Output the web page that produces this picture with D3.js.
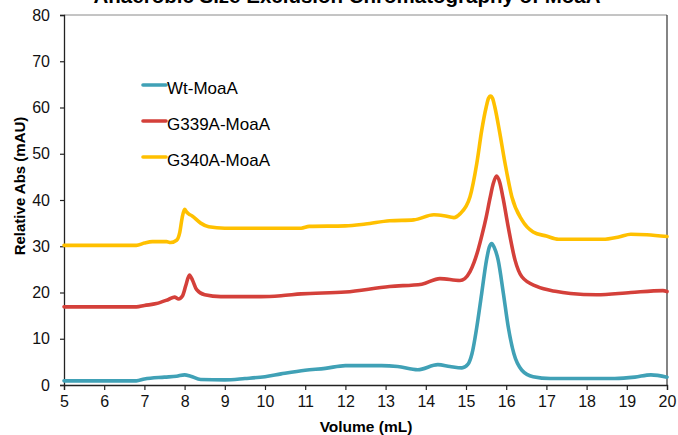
<!DOCTYPE html>
<html>
<head>
<meta charset="utf-8">
<script src="https://cdn.jsdelivr.net/npm/d3@7"></script>
<style>
  html, body { margin: 0; padding: 0; background: #fff; }
  svg { display: block; font-family: "Liberation Sans", Arial, Helvetica, sans-serif; }
</style>
</head>
<body>
<svg id="chart" width="678" height="435"></svg>
<script>
const title = "Anaerobic Size Exclusion Chromatography of MoaA";
const xTitle = "Volume (mL)";
const yTitle = "Relative Abs (mAU)";
const xTicks = [5,6,7,8,9,10,11,12,13,14,15,16,17,18,19,20];
const yTicks = [0,10,20,30,40,50,60,70,80];
const seriesNames = ["Wt-MoaA", "G339A-MoaA", "G340A-MoaA"];
const seriesColors = ["#40a1b6", "#d4403a", "#ffc000"];

const wtVol = [5,6.8,7.0,7.5,7.8,8.0,8.15,8.4,9.0,9.5,10,10.4,11,11.5,12,12.9,13.3,13.8,14.3,14.6,14.9,15.05,15.15,15.27,15.39,15.51,15.58,15.64,15.7,15.8,15.93,16.05,16.19,16.39,16.67,17.1,18.7,19.2,19.6,20];
const wtAbs = [0.9,0.9,1.3,1.7,1.9,2.2,1.9,1.2,1.1,1.4,1.8,2.4,3.2,3.6,4.2,4.2,4.0,3.3,4.4,4.0,3.7,4.5,6.8,12.6,19.8,27.0,29.8,30.6,29.8,27.0,19.8,12.6,6.8,3.2,1.8,1.4,1.4,1.7,2.2,1.7];

const g339Vol = [5,6.8,7.0,7.3,7.6,7.75,7.85,7.95,8.03,8.12,8.2,8.3,8.5,8.9,9.9,10.4,10.9,12.0,13.1,13.9,14.35,14.85,14.97,15.1,15.2,15.3,15.4,15.5,15.6,15.68,15.76,15.84,15.92,16.05,16.22,16.39,16.76,17.26,17.6,18.25,19.1,19.9,20];
const g339Abs = [16.9,16.9,17.2,17.6,18.5,19.0,18.6,19.3,21.5,23.8,22.6,20.6,19.5,19.1,19.1,19.3,19.7,20.1,21.3,21.8,23.0,22.6,23.0,24.5,26.5,29.2,32.5,36.2,40.5,43.6,45.2,43.8,40.5,34.2,27.0,23.4,21.3,20.2,19.8,19.5,20.0,20.4,20.2];

const g340Vol = [5,6.8,7.0,7.2,7.55,7.65,7.8,7.88,7.94,8.0,8.05,8.1,8.18,8.4,8.6,9.0,10.9,11.1,12.0,12.5,13.1,13.7,14.2,14.45,14.7,14.85,15.1,15.27,15.39,15.5,15.56,15.61,15.66,15.72,15.83,15.97,16.14,16.39,16.67,17.0,17.3,18.4,18.8,19.1,19.5,20];
const g340Abs = [30.2,30.2,30.7,31.0,31.0,30.8,31.3,33.0,36.2,38.0,37.4,37.0,36.6,35.0,34.2,33.9,33.9,34.3,34.4,34.8,35.5,35.7,36.8,36.6,36.2,37.0,40.7,48.0,55.0,60.0,62.0,62.5,62.0,60.0,55.0,48.0,40.7,35.7,33.1,32.2,31.5,31.5,32.0,32.6,32.5,32.1];

const series = [
  {name: seriesNames[0], color: seriesColors[0], pts: wtVol.map((v,i)=>[v, wtAbs[i]])},
  {name: seriesNames[1], color: seriesColors[1], pts: g339Vol.map((v,i)=>[v, g339Abs[i]])},
  {name: seriesNames[2], color: seriesColors[2], pts: g340Vol.map((v,i)=>[v, g340Abs[i]])}
];

const svg = d3.select("#chart");
const mLeft = 64, mRight = 667, mTop = 15, mBottom = 385;
const x = d3.scaleLinear().domain([5,20]).range([mLeft, mRight]);
const y = d3.scaleLinear().domain([0,80]).range([mBottom, mTop]);

// title (partially cut at the top, as in the reference)
svg.append("text").attr("x", 347).attr("y", 3).attr("text-anchor","middle")
  .attr("font-size", 20.5).attr("font-weight","bold").attr("fill","#000").text(title);

// frame: top and right
svg.append("line").attr("x1", mLeft).attr("x2", mRight).attr("y1", mTop).attr("y2", mTop)
  .attr("stroke","#8a8a8a").attr("stroke-width",1);
svg.append("line").attr("x1", mRight).attr("x2", mRight).attr("y1", mTop).attr("y2", mBottom)
  .attr("stroke","#333").attr("stroke-width",1.2);

// axes
const xAxis = svg.append("g").attr("transform", `translate(0,${mBottom})`)
  .call(d3.axisBottom(x).tickValues(xTicks).tickSize(5).tickPadding(6).tickFormat(d3.format("d")));
const yAxis = svg.append("g").attr("transform", `translate(${mLeft},0)`)
  .call(d3.axisLeft(y).tickValues(yTicks).tickSize(4).tickPadding(10).tickFormat(d3.format("d")));
[xAxis, yAxis].forEach(g => {
  g.select(".domain").attr("stroke","#222").attr("stroke-width",1.3);
  g.selectAll(".tick line").attr("stroke","#222").attr("stroke-width",1.2);
  g.selectAll(".tick text").attr("font-size",16).attr("fill","#111")
    .attr("font-family",'"Liberation Sans", Arial, sans-serif');
});

// axis titles
svg.append("text").attr("x", 366).attr("y", 432).attr("text-anchor","middle")
  .attr("font-size",15.5).attr("font-weight","bold").text(xTitle);
svg.append("text").attr("transform","translate(25,186) rotate(-90)").attr("text-anchor","middle")
  .attr("font-size",15).attr("font-weight","bold").text(yTitle);

// lines
const line = d3.line().x(d=>x(d[0])).y(d=>y(d[1])).curve(d3.curveMonotoneX);
svg.append("g").selectAll("path").data(series).join("path")
  .attr("d", d=>line(d.pts)).attr("fill","none").attr("stroke", d=>d.color)
  .attr("stroke-width",3.6).attr("stroke-linejoin","round").attr("stroke-linecap","round");

// legend
const lg = svg.append("g");
const legY = [85, 121, 157];
series.forEach((s,i)=>{
  lg.append("line").attr("x1",143).attr("x2",166).attr("y1",legY[i]).attr("y2",legY[i])
    .attr("stroke", s.color).attr("stroke-width",3.6).attr("stroke-linecap","round");
  lg.append("text").attr("x",167).attr("y",legY[i]+8.5).attr("font-size",17).attr("fill","#000").text(s.name);
});
</script>
</body>
</html>
